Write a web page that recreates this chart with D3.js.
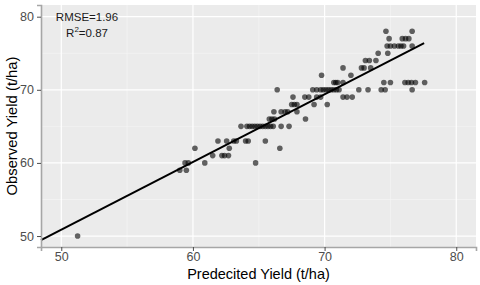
<!DOCTYPE html>
<html>
<head>
<meta charset="utf-8">
<script src="https://cdn.jsdelivr.net/npm/d3@7"></script>
<style>
  body { margin: 0; background: #fff; }
  svg { display: block; font-family: "Liberation Sans", Arial, sans-serif; }
</style>
</head>
<body>
<div id="chart"></div>
<script>
// predicted vs observed yield (t/ha)
var predicted = [
	51.24,
	59.0, 59.5,
	59.4, 59.65, 60.9, 64.76,
	61.5, 62.2, 62.4, 62.7,
	60.15, 62.76, 66.6,
	61.9, 62.56, 63.1, 63.3, 64.0, 64.2, 65.5,
	63.65, 64.1, 64.3, 64.5, 64.7, 64.9, 65.1, 65.3, 65.5, 65.7, 65.9, 66.1, 66.7, 67.3,
	65.8, 66.0, 66.2, 68.55,
	66.15, 66.7, 67.0, 67.2, 67.9,
	67.5, 67.7, 67.9, 69.2, 70.2,
	67.6, 68.5, 68.8, 69.4, 69.7, 71.4, 71.7, 72.1,
	66.4, 69.1, 69.4, 69.7, 69.9, 70.1, 70.3, 70.5, 70.7, 70.9, 71.1, 72.6, 73.3, 74.3, 74.6, 76.65,
	70.7, 70.85, 71.0, 71.4, 74.5, 75.0, 76.1, 76.35, 76.6, 76.9, 77.6,
	69.77, 72.0,
	71.4, 72.8, 73.0, 73.5,
	73.1, 73.4, 73.9,
	74.07, 74.8,
	74.75, 75.0, 75.3, 75.6, 75.8, 76.0, 76.65,
	74.9, 75.9, 76.15, 76.4,
	74.66, 76.65
];
var observed = [
	50,
	59, 59,
	60, 60, 60, 60,
	61, 61, 61, 61,
	62, 62, 62,
	63, 63, 63, 63, 63, 63, 63,
	65, 65, 65, 65, 65, 65, 65, 65, 65, 65, 65, 65, 65, 65,
	66, 66, 66, 66,
	67, 67, 67, 67, 67,
	68, 68, 68, 68, 68,
	69, 69, 69, 69, 69, 69, 69, 69,
	70, 70, 70, 70, 70, 70, 70, 70, 70, 70, 70, 70, 70, 70, 70, 70,
	71, 71, 71, 71, 71, 71, 71, 71, 71, 71, 71,
	72, 72,
	73, 73, 73, 73,
	74, 74, 74,
	75, 75,
	76, 76, 76, 76, 76, 76, 76,
	77, 77, 77, 77,
	78, 78
];
var majorTicks = [50, 60, 70, 80];
var minorTicks = [55, 65, 75];
var fitIntercept = 4.57;   // observed = a + b * predicted
var fitSlope = 0.926;
var fitEnd = 77.56;
var statLines = ["RMSE=1.96", "0.87"];

var width = 480, height = 285;
var margin = {top: 5, right: 4, bottom: 38, left: 41};

var svg = d3.select("#chart").append("svg")
	.attr("width", width)
	.attr("height", height);

var x = d3.scaleLinear().domain([48.46, 81.5]).range([margin.left, width - margin.right]);
var y = d3.scaleLinear().domain([48.5, 81.6]).range([height - margin.bottom, margin.top]);

// panel
svg.append("rect")
	.attr("x", margin.left)
	.attr("y", margin.top)
	.attr("width", width - margin.right - margin.left)
	.attr("height", height - margin.bottom - margin.top)
	.style("fill", "#ebebeb");

var grid = svg.append("g");
// minor grid
grid.selectAll(".vminor").data(minorTicks).enter().append("line")
	.attr("x1", function(d) { return x(d); }).attr("x2", function(d) { return x(d); })
	.attr("y1", margin.top).attr("y2", height - margin.bottom)
	.style("stroke", "#f5f5f5").style("stroke-width", 0.6);
grid.selectAll(".hminor").data(minorTicks).enter().append("line")
	.attr("y1", function(d) { return y(d); }).attr("y2", function(d) { return y(d); })
	.attr("x1", margin.left).attr("x2", width - margin.right)
	.style("stroke", "#f5f5f5").style("stroke-width", 0.6);
// major grid
grid.selectAll(".vmajor").data(majorTicks).enter().append("line")
	.attr("x1", function(d) { return x(d); }).attr("x2", function(d) { return x(d); })
	.attr("y1", margin.top).attr("y2", height - margin.bottom)
	.style("stroke", "#fff").style("stroke-width", 1.2);
grid.selectAll(".hmajor").data(majorTicks).enter().append("line")
	.attr("y1", function(d) { return y(d); }).attr("y2", function(d) { return y(d); })
	.attr("x1", margin.left).attr("x2", width - margin.right)
	.style("stroke", "#fff").style("stroke-width", 1.2);

// points
var pts = predicted.map(function(d, i) { return {p: d, o: observed[i]}; });
svg.append("g").selectAll("circle")
	.data(pts)
	.enter().append("circle")
	.attr("cx", function(d) { return x(d.p); })
	.attr("cy", function(d) { return y(d.o); })
	.attr("r", 2.8)
	.style("fill", "#000")
	.style("fill-opacity", 0.6);

// fitted line
var x0 = x.domain()[0];
svg.append("line")
	.attr("x1", x(x0))
	.attr("y1", y(fitIntercept + fitSlope * x0))
	.attr("x2", x(fitEnd))
	.attr("y2", y(fitIntercept + fitSlope * fitEnd))
	.style("stroke", "#000")
	.style("stroke-width", 2);

// axes
var xAxis = svg.append("g")
	.attr("transform", "translate(0," + (height - margin.bottom) + ")")
	.call(d3.axisBottom(x).tickValues(majorTicks).tickSize(4).tickPadding(1.5));
var yAxis = svg.append("g")
	.attr("transform", "translate(" + margin.left + ",0)")
	.call(d3.axisLeft(y).tickValues(majorTicks).tickSize(4).tickPadding(3));
[xAxis, yAxis].forEach(function(a) {
	a.select(".domain").style("stroke", "#a6a6a6").style("stroke-width", 1.6);
	a.selectAll(".tick line").style("stroke", "#4d4d4d");
	a.selectAll(".tick text")
		.style("fill", "#4d4d4d")
		.style("font-size", "12.5px")
		.style("font-family", "Liberation Sans, Arial, sans-serif");
});

// axis titles
svg.append("text")
	.attr("x", (margin.left + width - margin.right) / 2)
	.attr("y", 279)
	.attr("text-anchor", "middle")
	.style("font-size", "14.5px")
	.style("fill", "#000")
	.text("Predecited Yield (t/ha)");
svg.append("text")
	.attr("transform", "translate(17," + ((margin.top + height - margin.bottom) / 2) + ") rotate(-90)")
	.attr("text-anchor", "middle")
	.style("font-size", "14.8px")
	.style("fill", "#000")
	.text("Observed Yield (t/ha)");

// stats
svg.append("text")
	.attr("x", 87).attr("y", 21)
	.attr("text-anchor", "middle")
	.style("font-size", "11.5px")
	.style("fill", "#1a1a1a")
	.text(statLines[0]);
var r2 = svg.append("text")
	.attr("x", 87).attr("y", 37)
	.attr("text-anchor", "middle")
	.style("font-size", "11.5px")
	.style("fill", "#1a1a1a");
r2.append("tspan").text("R");
r2.append("tspan").attr("dy", -5).style("font-size", "8px").text("2");
r2.append("tspan").attr("dy", 5).text("=" + statLines[1]);
</script>
</body>
</html>
